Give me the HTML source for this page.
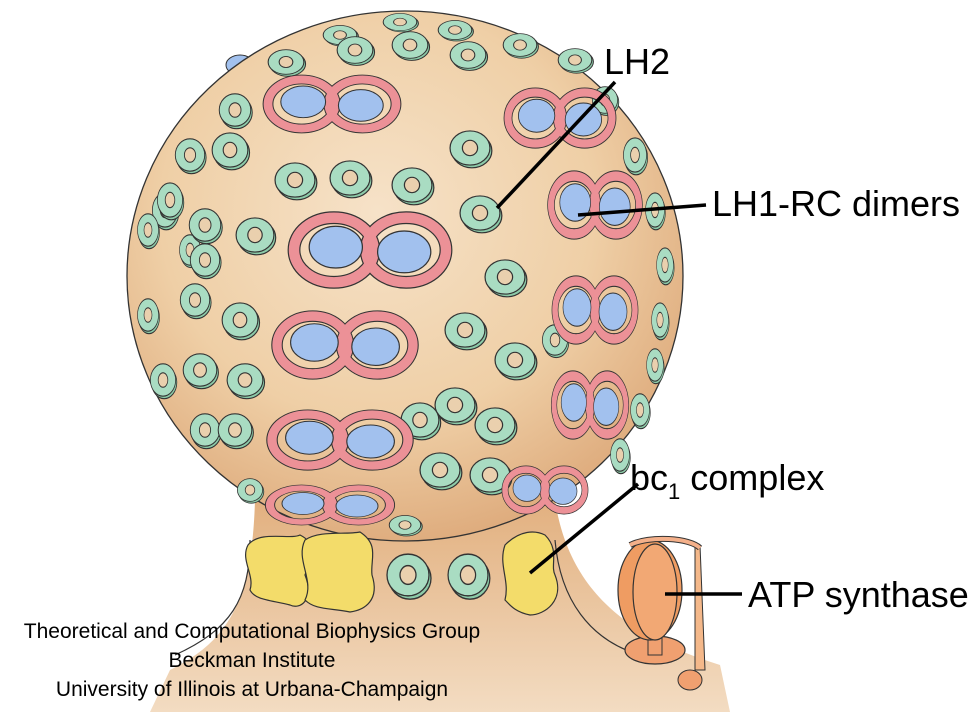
<!DOCTYPE html>
<html><head><meta charset="utf-8"><style>
html,body{margin:0;padding:0;background:#fff;}
svg{display:block}
text{font-family:"Liberation Sans","DejaVu Sans",sans-serif;fill:#000}
</style></head><body>
<svg width="977" height="712" viewBox="0 0 977 712" xmlns="http://www.w3.org/2000/svg">
<defs>
<radialGradient id="sph" cx="0.45" cy="0.38" r="0.65">
<stop offset="0" stop-color="#f6e2c8"/><stop offset="0.6" stop-color="#efcfa6"/><stop offset="1" stop-color="#dda97a"/>
</radialGradient>
<linearGradient id="base" x1="0" y1="0" x2="0" y2="1">
<stop offset="0" stop-color="#e2b07f"/><stop offset="1" stop-color="#f3dcc2"/>
</linearGradient>
<g id="ring">
<ellipse cx="2" cy="3" rx="21" ry="19" fill="#8ccaa8" stroke="#333" stroke-width="1.3"/>
<ellipse cx="0" cy="0" rx="21" ry="19" fill="#a9dcc2" stroke="#333" stroke-width="1.3"/>
<ellipse cx="0" cy="0" rx="8" ry="8.5" fill="#ead0ae" stroke="#333" stroke-width="1.3"/>
</g>
<g id="eight">
<ellipse cx="-38" cy="0" rx="42" ry="34" fill="none" stroke="#333" stroke-width="13.5"/>
<ellipse cx="38" cy="0" rx="42" ry="34" fill="none" stroke="#333" stroke-width="13.5"/>
<ellipse cx="-38" cy="0" rx="42" ry="34" fill="none" stroke="#ec9197" stroke-width="11"/>
<ellipse cx="38" cy="0" rx="42" ry="34" fill="none" stroke="#ec9197" stroke-width="11"/>
<ellipse cx="-36" cy="-3" rx="28" ry="22" fill="#a2c1ee" stroke="#333" stroke-width="1.3"/>
<ellipse cx="36" cy="2" rx="28" ry="22" fill="#a2c1ee" stroke="#333" stroke-width="1.3"/>
</g>
</defs>
<path d="M255 500 C252 600 230 640 170 670 L150 712 L730 712 L720 665 C640 640 570 600 555 500 Z" fill="url(#base)"/>
<path d="M250 540 C250 600 230 630 175 655" fill="none" stroke="#333" stroke-width="1.2"/>
<path d="M555 540 C560 600 590 640 640 655" fill="none" stroke="#333" stroke-width="1.2"/>
<ellipse cx="140" cy="270" rx="10" ry="14" fill="#a2c1ee" stroke="#333"/>
<ellipse cx="240" cy="65" rx="14" ry="10" fill="#a2c1ee" stroke="#333"/>
<ellipse cx="405" cy="276" rx="278" ry="265" fill="url(#sph)" stroke="#333" stroke-width="1.3"/>
<g>
<use href="#ring" transform="translate(340,35) scale(0.8,0.5)"/>
<use href="#ring" transform="translate(400,22) scale(0.8,0.45)"/>
<use href="#ring" transform="translate(455,30) scale(0.8,0.5)"/>
<use href="#ring" transform="translate(520,45) scale(0.8,0.6)"/>
<use href="#ring" transform="translate(575,60) scale(0.8,0.6)"/>
<use href="#ring" transform="translate(286,62) scale(0.85,0.65)"/>
<use href="#ring" transform="translate(355,50) scale(0.85,0.7)"/>
<use href="#ring" transform="translate(410,45) scale(0.85,0.7)"/>
<use href="#ring" transform="translate(468,55) scale(0.85,0.7)"/>
<use href="#ring" transform="translate(235,110) scale(0.75,0.85)"/>
<use href="#ring" transform="translate(190,155) scale(0.7,0.85)"/>
<use href="#ring" transform="translate(230,150) scale(0.85,0.9)"/>
<use href="#ring" transform="translate(165,210) scale(0.6,0.9)"/>
<use href="#ring" transform="translate(190,250) scale(0.5,0.8)"/>
<use href="#ring" transform="translate(205,260) scale(0.7,0.85)"/>
<use href="#ring" transform="translate(170,200) scale(0.6,0.9)"/>
<use href="#ring" transform="translate(205,225) scale(0.75,0.85)"/>
<use href="#ring" transform="translate(195,300) scale(0.7,0.85)"/>
<use href="#ring" transform="translate(148,315) scale(0.5,0.85)"/>
<use href="#ring" transform="translate(148,230) scale(0.5,0.85)"/>
<use href="#ring" transform="translate(240,320) scale(0.85,0.9)"/>
<use href="#ring" transform="translate(255,235) scale(0.9,0.9)"/>
<use href="#ring" transform="translate(163,380) scale(0.6,0.85)"/>
<use href="#ring" transform="translate(200,370) scale(0.8,0.85)"/>
<use href="#ring" transform="translate(245,380) scale(0.85,0.85)"/>
<use href="#ring" transform="translate(205,430) scale(0.7,0.85)"/>
<use href="#ring" transform="translate(235,430) scale(0.8,0.85)"/>
<use href="#ring" transform="translate(250,490) scale(0.6,0.6)"/>
<use href="#ring" transform="translate(295,180) scale(0.95,0.9)"/>
<use href="#ring" transform="translate(350,178) scale(0.95,0.9)"/>
<use href="#ring" transform="translate(412,185) scale(0.95,0.9)"/>
<use href="#ring" transform="translate(470,148) scale(0.95,0.9)"/>
<use href="#ring" transform="translate(480,213) scale(0.95,0.9)"/>
<use href="#ring" transform="translate(505,277) scale(0.95,0.9)"/>
<use href="#ring" transform="translate(465,330) scale(0.95,0.9)"/>
<use href="#ring" transform="translate(515,360) scale(0.95,0.9)"/>
<use href="#ring" transform="translate(455,405) scale(0.95,0.9)"/>
<use href="#ring" transform="translate(495,425) scale(0.95,0.9)"/>
<use href="#ring" transform="translate(440,470) scale(0.95,0.9)"/>
<use href="#ring" transform="translate(490,475) scale(0.95,0.9)"/>
<use href="#ring" transform="translate(420,420) scale(0.9,0.9)"/>
<use href="#ring" transform="translate(635,155) scale(0.55,0.9)"/>
<use href="#ring" transform="translate(655,210) scale(0.45,0.9)"/>
<use href="#ring" transform="translate(665,265) scale(0.4,0.9)"/>
<use href="#ring" transform="translate(660,320) scale(0.4,0.9)"/>
<use href="#ring" transform="translate(655,365) scale(0.4,0.85)"/>
<use href="#ring" transform="translate(640,410) scale(0.45,0.85)"/>
<use href="#ring" transform="translate(620,455) scale(0.45,0.85)"/>
<use href="#ring" transform="translate(605,100) scale(0.6,0.7)"/>
<use href="#ring" transform="translate(555,340) scale(0.6,0.8)"/>
<use href="#eight" transform="translate(332,104) scale(0.8,0.72)"/>
<use href="#eight" transform="translate(370,250) scale(0.95,0.95)"/>
<use href="#eight" transform="translate(345,345) scale(0.85,0.85)"/>
<use href="#eight" transform="translate(340,440) scale(0.85,0.75)"/>
<use href="#eight" transform="translate(330,505) scale(0.75,0.5)"/>
<use href="#eight" transform="translate(560,118) scale(0.65,0.75)"/>
<use href="#eight" transform="translate(595,205) scale(0.55,0.85)"/>
<use href="#eight" transform="translate(595,310) scale(0.5,0.85)"/>
<use href="#eight" transform="translate(590,405) scale(0.45,0.85)"/>
<use href="#eight" transform="translate(545,490) scale(0.5,0.6)"/>
</g>
<use href="#ring" transform="translate(405,525) scale(0.75,0.5)"/>
<use href="#ring" transform="translate(408,575) scale(1,1.1)"/>
<use href="#ring" transform="translate(468,575) scale(0.95,1.1)"/>
<path d="M248 545 C260 530 290 540 300 535 C320 545 310 560 305 575 C315 600 300 610 290 605 C270 600 255 600 250 590 C255 575 240 560 248 545 Z" fill="#f3dc6a" stroke="#333" stroke-width="1.2"/>
<path d="M305 540 C320 530 345 535 360 532 C380 545 370 560 372 575 C380 600 365 610 350 612 C330 608 315 610 305 600 C315 580 295 560 305 540 Z" fill="#f3dc6a" stroke="#333" stroke-width="1.2"/>
<path d="M505 545 C520 530 535 530 545 535 C560 550 550 565 555 575 C565 600 545 615 530 615 C515 612 510 605 505 600 C510 580 498 565 505 545 Z" fill="#f3dc6a" stroke="#333" stroke-width="1.2"/>
<path d="M695 545 L700 545 L705 670 L695 670 Z" fill="#f4b88a" stroke="#333" stroke-width="1"/>
<ellipse cx="655" cy="650" rx="30" ry="14" fill="#f0a070" stroke="#333" stroke-width="1.2"/>
<rect x="648" y="625" width="14" height="30" fill="#f0a070" stroke="#333"/>
<ellipse cx="690" cy="680" rx="12" ry="10" fill="#f0a070" stroke="#333"/>
<ellipse cx="650" cy="590" rx="32" ry="50" fill="#ef9c62" stroke="#333" stroke-width="1.2"/>
<ellipse cx="655" cy="592" rx="22" ry="48" fill="#f2a874" stroke="#333" stroke-width="1.2"/>
<path d="M630 545 C650 535 690 538 700 548" fill="none" stroke="#333" stroke-width="6"/>
<path d="M630 545 C650 535 690 538 700 548" fill="none" stroke="#f4b08a" stroke-width="4"/>
<g stroke="#000" stroke-width="3.5" fill="none">
<line x1="615" y1="82" x2="497" y2="208"/>
<line x1="706" y1="205" x2="578" y2="215"/>
<line x1="638" y1="484" x2="530" y2="573"/>
<line x1="742" y1="594" x2="665" y2="594"/>
</g>
<text x="604" y="74" font-size="36">LH2</text>
<text x="712" y="216" font-size="36">LH1-RC dimers</text>
<text x="630" y="490" font-size="36">bc<tspan font-size="22" dy="9">1</tspan><tspan dy="-9"> complex</tspan></text>
<text x="748" y="607" font-size="36">ATP synthase</text>
<g font-size="21" text-anchor="middle">
<text x="252" y="638">Theoretical and Computational Biophysics Group</text>
<text x="252" y="667">Beckman Institute</text>
<text x="252" y="696">University of Illinois at Urbana-Champaign</text>
</g>
</svg>
</body></html>
